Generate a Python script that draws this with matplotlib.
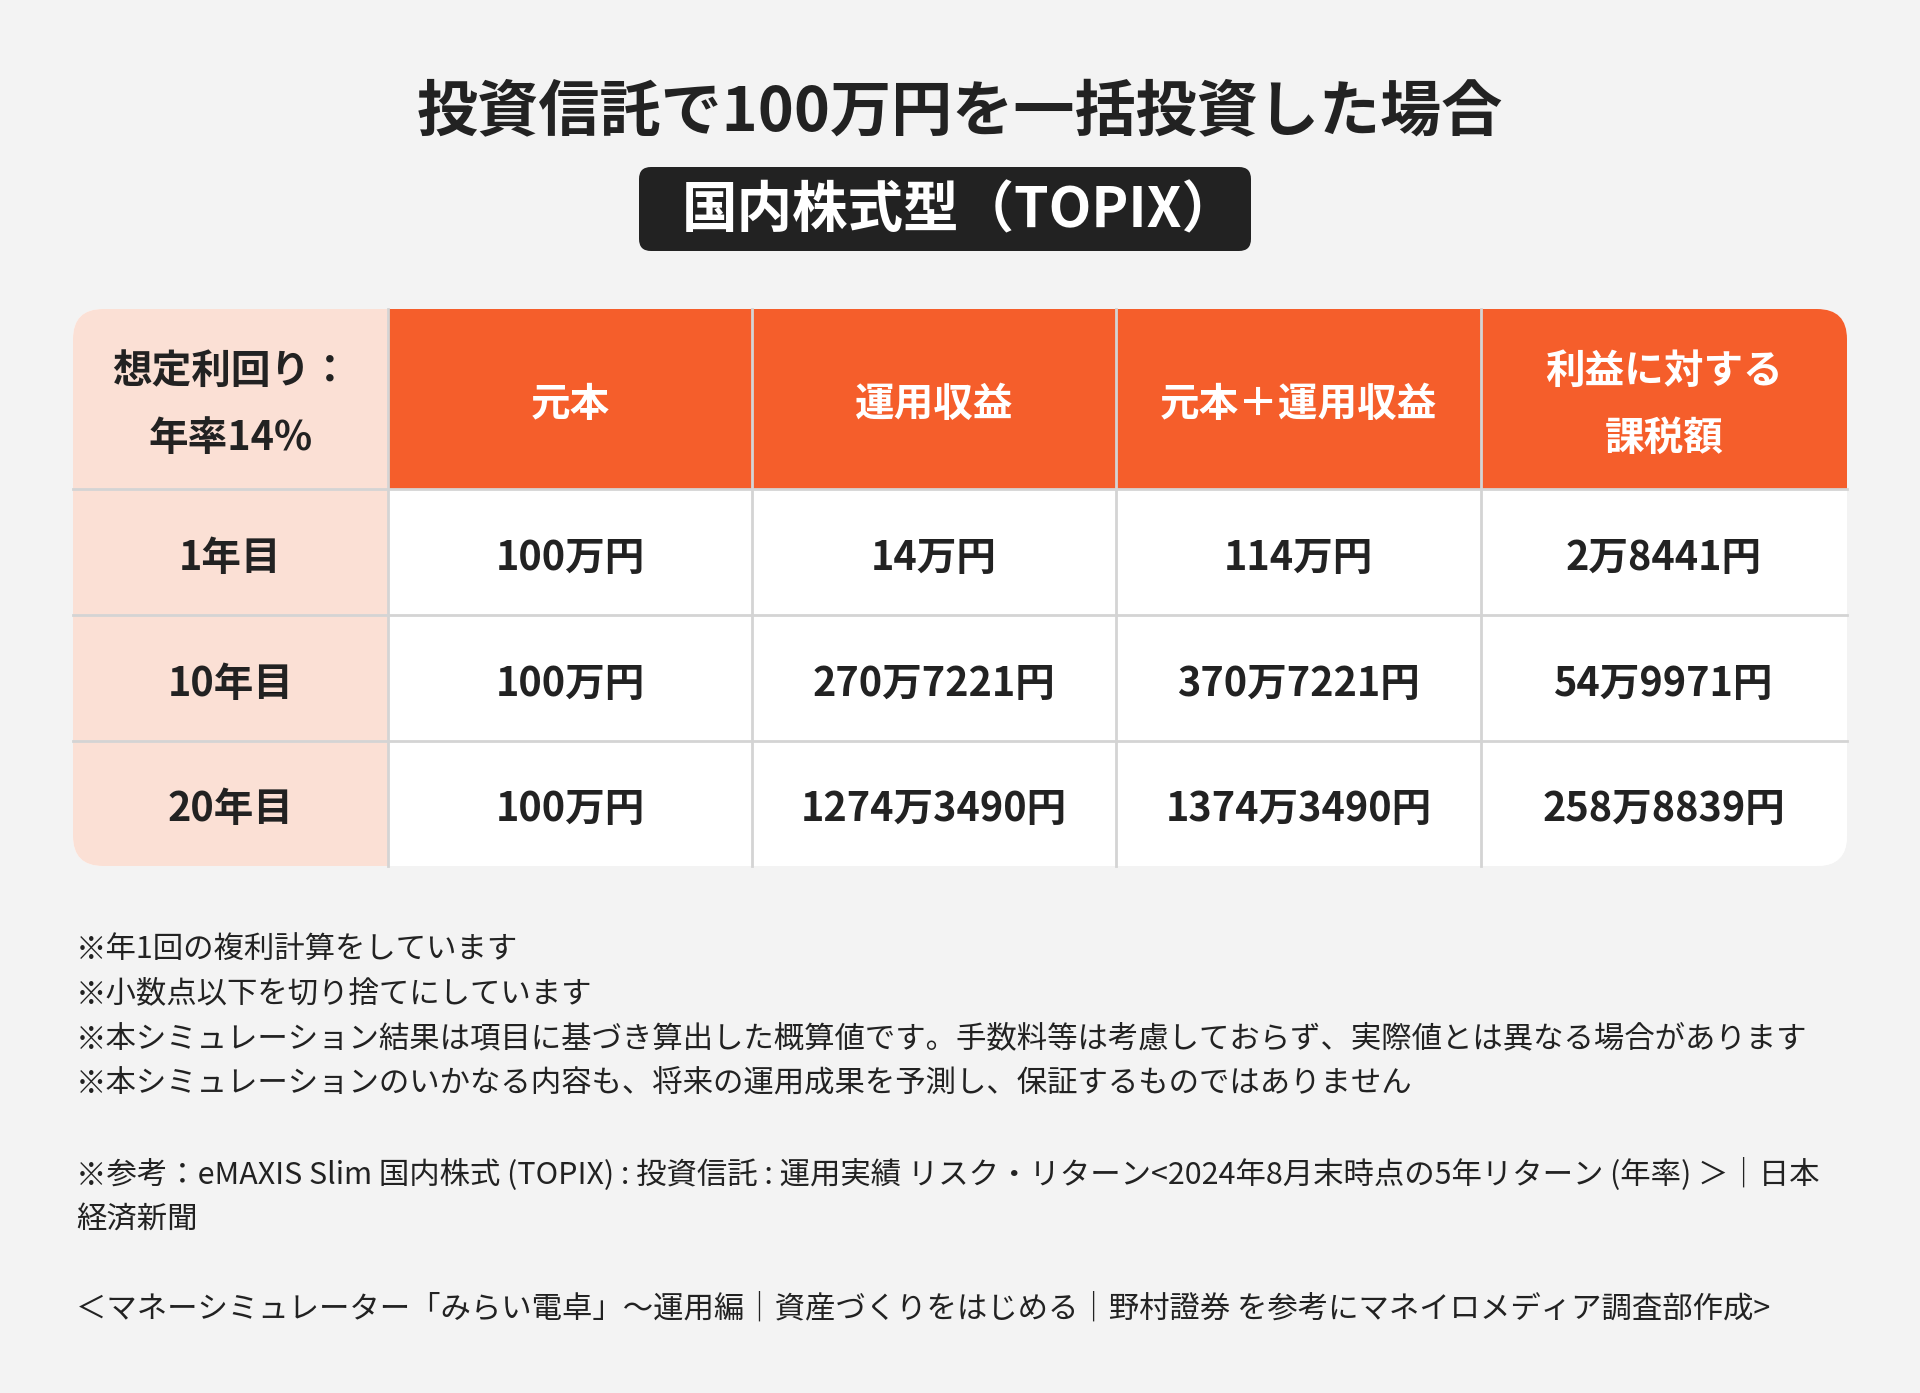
import matplotlib.pyplot as plt
from matplotlib.patches import FancyBboxPatch, Rectangle

plt.rcParams['font.family'] = ['Noto Sans CJK JP', 'DejaVu Sans']

title = "投資信託で100万円を一括投資した場合"
subtitle = "国内株式型（TOPIX）"
corner_label = "想定利回り：\n年率14%"
col_headers = ["元本", "運用収益", "元本＋運用収益", "利益に対する\n課税額"]
row_labels = ["1年目", "10年目", "20年目"]
principal = ["100万円", "100万円", "100万円"]
returns = ["14万円", "270万7221円", "1274万3490円"]
totals = ["114万円", "370万7221円", "1374万3490円"]
taxes = ["2万8441円", "54万9971円", "258万8839円"]
notes = [
    "※年1回の複利計算をしています",
    "※小数点以下を切り捨てにしています",
    "※本シミュレーション結果は項目に基づき算出した概算値です。手数料等は考慮しておらず、実際値とは異なる場合があります",
    "※本シミュレーションのいかなる内容も、将来の運用成果を予測し、保証するものではありません",
    "",
    "※参考：eMAXIS Slim 国内株式 (TOPIX) : 投資信託 : 運用実績 リスク・リターン<2024年8月末時点の5年リターン (年率) ＞｜日本",
    "経済新聞",
    "",
    "＜マネーシミュレーター「みらい電卓」～運用編｜資産づくりをはじめる｜野村證券 を参考にマネイロメディア調査部作成>",
]

BG = "#f3f3f3"
ORANGE = "#f55e2b"
PINK = "#fbe0d5"
DARK = "#222222"
GRID = "#d4d4d4"

W, H = 1920, 1393
fig = plt.figure(figsize=(W / 100, H / 100), dpi=100, facecolor=BG)
ax = fig.add_axes([0, 0, 1, 1])
ax.set_xlim(0, W)
ax.set_ylim(H, 0)
ax.axis("off")

# title + dark label box
ax.text(W / 2, 113, title, ha="center", va="center", fontsize=44,
        fontweight="bold", color=DARK)
box = FancyBboxPatch((651, 179), 588, 60, boxstyle="round,pad=12,rounding_size=12",
                     fc=DARK, ec="none")
ax.add_patch(box)
ax.text(W / 2, 211, subtitle, ha="center", va="center", fontsize=40,
        fontweight="bold", color="white")

# table geometry
col_x = [73, 388, 752, 1116, 1481, 1847]
row_y = [309, 489, 615, 741, 866]

clip = FancyBboxPatch((col_x[0], row_y[0]), col_x[-1] - col_x[0], row_y[-1] - row_y[0],
                      boxstyle="round,pad=0,rounding_size=30", fc="white", ec="none")
ax.add_patch(clip)

columns = [principal, returns, totals, taxes]
for r in range(len(row_y) - 1):
    for c in range(len(col_x) - 1):
        if c == 0:
            fc = PINK
        elif r == 0:
            fc = ORANGE
        else:
            fc = "white"
        rect = Rectangle((col_x[c], row_y[r]), col_x[c + 1] - col_x[c],
                         row_y[r + 1] - row_y[r], fc=fc, ec="none")
        ax.add_patch(rect)
        rect.set_clip_path(clip)

        cx = (col_x[c] + col_x[c + 1]) / 2
        cy = (row_y[r] + row_y[r + 1]) / 2
        if r == 0 and c == 0:
            txt, col = corner_label, DARK
        elif r == 0:
            txt, col = col_headers[c - 1], "white"
        elif c == 0:
            txt, col = row_labels[r - 1], DARK
        else:
            txt, col = columns[c - 1][r - 1], DARK
        ax.text(cx, cy + 6, txt, ha="center", va="center", fontsize=28.5,
                fontweight="bold", color=col, linespacing=1.8)

# grid lines
for x in col_x[1:-1]:
    ax.plot([x, x], [row_y[0], row_y[-1]], color=GRID, lw=2)
for y in row_y[1:-1]:
    ax.plot([col_x[0], col_x[-1]], [y, y], color=GRID, lw=2)

# footnotes
y0, step = 949, 45
for i, line in enumerate(notes):
    ax.text(76, y0 + i * step, line, ha="left", va="center", fontsize=21.9,
            color=DARK)

fig.savefig("out.png", dpi=100, facecolor=BG)
